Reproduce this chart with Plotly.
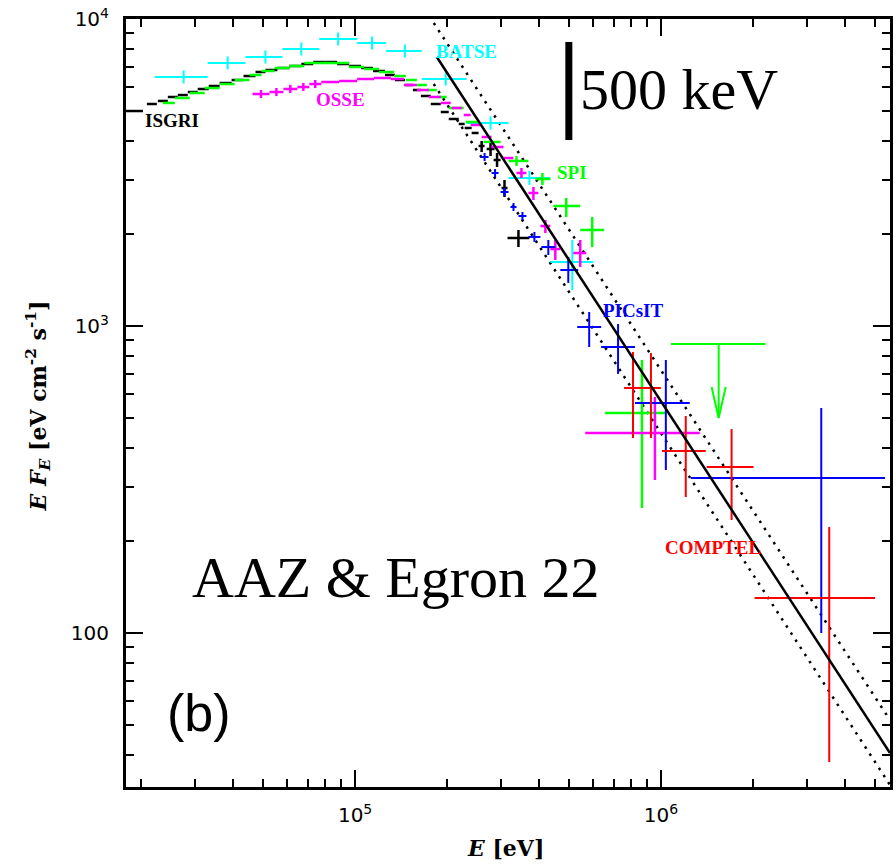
import numpy as np
import plotly.graph_objects as go

# ---------------- data (E in eV, E*F_E in eV cm^-2 s^-1) ----------------
batse_E    = [27500, 38300, 50900, 66700, 88000, 113600, 145500, 197900, 277300, 371500, 513100]
batse_E_lo = [22140, 32950, 43820, 57830, 76340, 101500, 126200, 165300, 231600, 317500, 434900]
batse_E_hi = [32950, 43820, 57830, 76340, 101500, 126200, 165300, 231600, 317500, 434900, 600400]
batse_F    = [6473, 7189, 7519, 7985, 8607, 8352, 7866, 6376, 4584, 3035, 1616]
batse_F_lo = [6165, 6850, 7160, 7605, 8200, 7955, 7490, 6070, 4365, 2880, 1310]
batse_F_hi = [6800, 7550, 7900, 8390, 9040, 8770, 8260, 6700, 4815, 3200, 1906]

isgri_E    = [18350, 21650, 23510, 25340, 27320, 29450, 31860, 34600, 37720, 41270,
              45160, 49040, 53260, 58280, 63760, 69760, 76340, 83520, 91400, 100000,
              109400, 119700, 130000, 140200, 150000, 159200, 170300, 183600, 196400, 210100,
              223100, 234200, 246900, 259300, 277300, 291200, 308000, 342100]
isgri_E_lo = [16780, 20850, 22650, 24410, 26320, 28370, 30570, 33210, 36060, 39460,
              43170, 47240, 50920, 55710, 60950, 66700, 72980, 79850, 87360, 95610,
              104600, 114400, 125200, 135000, 145500, 154500, 164100, 176800, 190600, 202400,
              218200, 228200, 240500, 253400, 269200, 283700, 301200, 315100]
isgri_E_hi = [20240, 22480, 24410, 26320, 28370, 30570, 33210, 36060, 39460, 43170,
              47240, 50920, 55710, 60950, 66700, 72980, 79850, 87360, 95610, 104600,
              114400, 125200, 135000, 145500, 154500, 164100, 176800, 190600, 202400, 218200,
              228200, 240500, 253400, 265100, 285800, 299000, 315100, 371500]
isgri_F    = [5015, 5286, 5408, 5571, 5654, 5783, 5916, 6050, 6187, 6328,
              6521, 6720, 6822, 6924, 7029, 7135, 7242, 7242, 7135, 7029,
              6924, 6771, 6571, 6328, 6095, 5871, 5613, 5286, 4978, 4724,
              4550, 4416, 4253, 3858, 3772, 3473, 2815, 1935]
isgri_F_lo = [5015, 5286, 5408, 5571, 5654, 5783, 5916, 6050, 6187, 6328,
              6521, 6720, 6822, 6924, 7029, 7135, 7242, 7242, 7135, 7029,
              6924, 6771, 6571, 6328, 6095, 5871, 5613, 5286, 4978, 4724,
              4550, 4416, 4253, 3688, 3578, 3296, 2632, 1808]
isgri_F_hi = [5015, 5286, 5408, 5571, 5654, 5783, 5916, 6050, 6187, 6328,
              6521, 6720, 6822, 6924, 7029, 7135, 7242, 7242, 7135, 7029,
              6924, 6771, 6571, 6328, 6095, 5871, 5613, 5286, 4978, 4724,
              4550, 4416, 4253, 4005, 3946, 3660, 2990, 2055]

spi_E    = [24600, 27220, 30460, 34090, 38150, 42700, 47240, 51880, 57620, 64480,
            72160, 80750, 90360, 101100, 113200, 126600, 140200, 152800, 165300, 178200,
            192000, 214100, 241400, 280500, 337100, 409700, 490400, 596200, 867100]
spi_E_lo = [23510, 25730, 28800, 32220, 36060, 40360, 45160, 49410, 54480, 60950,
            68220, 76340, 85410, 95610, 107000, 119700, 134000, 146600, 159200, 171600,
            185000, 202400, 229900, 263200, 317500, 388700, 444900, 544700, 657100]
spi_E_hi = [25730, 28800, 32220, 36060, 40360, 45160, 49410, 54480, 60950, 68220,
            76340, 85410, 95610, 107000, 119700, 134000, 146600, 159200, 171600, 185000,
            199400, 226500, 253400, 299000, 368800, 435000, 544700, 652200, 1038000]
spi_F    = [5327, 5530, 5741, 5960, 6140, 6328, 6571, 6771, 6924, 7029,
            7189, 7189, 7189, 6976, 6873, 6720, 6521, 6328, 6095, 5871,
            5571, 5130, 4619, 3976, 3448, 3012, 2460, 2055, 520.7]
spi_F_lo = [5327, 5530, 5741, 5960, 6140, 6328, 6571, 6771, 6924, 7029,
            7189, 7189, 7189, 6976, 6873, 6720, 6521, 6328, 6095, 5871,
            5571, 5130, 4619, 3976, 3321, 2880, 2265, 1808, 255.4]
spi_F_hi = [5327, 5530, 5741, 5960, 6140, 6328, 6571, 6771, 6924, 7029,
            7189, 7189, 7189, 6976, 6873, 6720, 6521, 6328, 6095, 5871,
            5571, 5130, 4619, 3976, 3578, 3151, 2612, 2265, 775.0]
# SPI upper limit
spi_ul_E    = [1545000]
spi_ul_E_lo = [1078000]
spi_ul_E_hi = [2198000]
spi_ul_F    = [873.6]

osse_E    = [49230, 55300, 61400, 67710, 74080, 82900, 94890, 108200, 122900, 137500,
             151600, 166500, 182200, 197900, 214900, 232500, 248700, 269200, 292300, 317500,
             349900, 382900, 419000, 451600, 544700, 955900]
osse_E_lo = [46190, 52480, 58280, 64730, 70840, 77500, 88670, 101500, 115300, 131000,
             144400, 159200, 174200, 190600, 207000, 226500, 238700, 259300, 279400, 305700,
             337100, 368800, 403600, 435000, 516800, 565700]
osse_E_hi = [52480, 58280, 64730, 70840, 77500, 88670, 101500, 115300, 131000, 144400,
             159200, 174200, 190600, 205500, 223100, 238700, 259300, 279400, 305700, 329600,
             363300, 397500, 435000, 468800, 570000, 1340000]
osse_F    = [5697, 5783, 5916, 6004, 6140, 6234, 6281, 6376, 6424, 6376,
             6095, 5871, 5571, 5327, 5130, 4867, 4516, 4127, 3829, 3526,
             3151, 2712, 2117, 1781, 1729, 448.1]
osse_F_lo = [5530, 5610, 5740, 5830, 5960, 6234, 6281, 6376, 6424, 6376,
             6095, 5871, 5571, 5327, 5130, 4867, 4516, 4127, 3829, 3526,
             3035, 2573, 2009, 1641, 1557, 315.0]
osse_F_hi = [5870, 5960, 6100, 6190, 6330, 6234, 6281, 6376, 6424, 6376,
             6095, 5871, 5571, 5327, 5130, 4867, 4516, 4127, 3829, 3526,
             3271, 2837, 2215, 1906, 1906, 587.1]

pic_E    = [265100, 286900, 308000, 329600, 352600, 385800, 428400, 497900, 582800, 724300, 1038000, 3345000]
pic_E_lo = [257300, 279400, 299000, 322200, 342100, 368800, 406600, 468800, 532500, 637600, 822700, 1252000]
pic_E_hi = [273200, 294500, 317500, 337100, 363300, 403600, 451600, 536500, 637600, 822700, 1243000, 5407000]
pic_F    = [3552, 3151, 2732, 2441, 2282, 1950, 1808, 1522, 992.7, 854.1, 561.3, 319.8]
pic_F_lo = [3448, 3058, 2651, 2369, 2215, 1879, 1703, 1381, 854.1, 697.9, 339.6, 100.0]
pic_F_hi = [3660, 3247, 2815, 2515, 2352, 2024, 1906, 1678, 1111, 1015, 775.0, 540.6]

comptel_E    = [810500, 927800, 1206000, 1703000, 3552000]
comptel_E_lo = [757700, 873600, 1008000, 1412000, 2024000]
comptel_E_hi = [873600, 1000000, 1402000, 2009000, 5015000]
comptel_F    = [628.3, 628.3, 391.5, 347.3, 130.0]
comptel_F_lo = [431.6, 431.6, 277.3, 233.4, 37.99]
comptel_F_hi = [822.7, 816.6, 509.1, 461.7, 221.4]

# power-law fit and its uncertainty band (end points)
fit_E    = [185000, 5613000]
fit_F    = [7519, 40.65]
fit_hi_E = [180800, 5613000]
fit_hi_F = [9705, 52.07]
fit_lo_E = [180800, 5613000]
fit_lo_F = [6140, 31.98]

marker_500keV = 5.0e5

x_tickvals = [1e5, 1e6]
x_ticktext = ["10<sup>5</sup>", "10<sup>6</sup>"]
y_tickvals = [100, 1000, 10000]
y_ticktext = ["100", "10<sup>3</sup>", "10<sup>4</sup>"]

# ---------------- styling ----------------
X_RANGE = [4.2508, 6.7492]
Y_RANGE = [1.4984, 4.0]
CYAN, MAG, GRN, BLU, RED = "#00ffff", "#ff00ff", "#00ff00", "#0000ff", "#ff0000"
UL_ARROW_DEX = 0.241      # length of the upper-limit arrow (decades)
HEAD_LEN_DEX = 0.101
HEAD_HALF_DEX = 0.023


def series(E, Elo, Ehi, F, Flo, Fhi, color, thick=2.0):
    E, Elo, Ehi = np.array(E, float), np.array(Elo, float), np.array(Ehi, float)
    F, Flo, Fhi = np.array(F, float), np.array(Flo, float), np.array(Fhi, float)
    return go.Scatter(
        x=E, y=F, mode="markers",
        marker=dict(size=1, color=color),
        error_x=dict(type="data", symmetric=False, array=Ehi - E, arrayminus=E - Elo,
                     color=color, thickness=thick, width=0),
        error_y=dict(type="data", symmetric=False, array=Fhi - F, arrayminus=F - Flo,
                     color=color, thickness=thick, width=0),
        showlegend=False, hoverinfo="skip")


fig = go.Figure()

fig.add_trace(go.Scatter(x=fit_hi_E, y=fit_hi_F, mode="lines",
                         line=dict(color="black", width=2.5, dash="2.5px,6px"),
                         showlegend=False, hoverinfo="skip"))
fig.add_trace(go.Scatter(x=fit_lo_E, y=fit_lo_F, mode="lines",
                         line=dict(color="black", width=2.5, dash="2.5px,6px"),
                         showlegend=False, hoverinfo="skip"))

fig.add_trace(series(batse_E, batse_E_lo, batse_E_hi, batse_F, batse_F_lo, batse_F_hi, CYAN))
fig.add_trace(series(isgri_E, isgri_E_lo, isgri_E_hi, isgri_F, isgri_F_lo, isgri_F_hi, "black", 2.5))
fig.add_trace(series(spi_E, spi_E_lo, spi_E_hi, spi_F, spi_F_lo, spi_F_hi, GRN, 2.5))
fig.add_trace(series(osse_E, osse_E_lo, osse_E_hi, osse_F, osse_F_lo, osse_F_hi, MAG, 2.5))
fig.add_trace(series(pic_E, pic_E_lo, pic_E_hi, pic_F, pic_F_lo, pic_F_hi, BLU))
fig.add_trace(series(comptel_E, comptel_E_lo, comptel_E_hi, comptel_F, comptel_F_lo, comptel_F_hi, RED))

# SPI upper limit: horizontal bar + downward arrow
fig.add_trace(series(spi_ul_E, spi_ul_E_lo, spi_ul_E_hi, spi_ul_F, spi_ul_F, spi_ul_F, GRN))
ax_, ay_ = [], []
for e, f in zip(spi_ul_E, spi_ul_F):
    tip = f / 10 ** UL_ARROW_DEX
    ax_ += [e, e, None, e / 10 ** HEAD_HALF_DEX, e, e * 10 ** HEAD_HALF_DEX, None]
    ay_ += [f, tip, None, tip * 10 ** HEAD_LEN_DEX, tip, tip * 10 ** HEAD_LEN_DEX, None]
fig.add_trace(go.Scatter(x=ax_, y=ay_, mode="lines", line=dict(color=GRN, width=2),
                         showlegend=False, hoverinfo="skip"))

fig.add_trace(go.Scatter(x=fit_E, y=fit_F, mode="lines", line=dict(color="black", width=2.5),
                         showlegend=False, hoverinfo="skip"))

# 500 keV marker bar
fig.add_shape(type="line", xref="x", yref="paper", x0=marker_500keV, x1=marker_500keV,
              y0=0.8424, y1=0.9701, line=dict(color="black", width=7))

x_minor = [m * 10 ** d for d in (4, 5, 6) for m in range(2, 10)]
y_minor = [m * 10 ** d for d in (1, 2, 3) for m in range(2, 10)]

axis_common = dict(type="log", showline=True, linecolor="black", linewidth=3,
                   mirror="allticks", ticks="inside", ticklen=17, tickwidth=2,
                   tickcolor="black", showgrid=False, zeroline=False,
                   tickfont=dict(family="DejaVu Sans", size=20, color="black"))
fig.update_xaxes(range=X_RANGE, tickmode="array", tickvals=x_tickvals, ticktext=x_ticktext,
                 minor=dict(tickvals=x_minor, ticks="inside", ticklen=8, tickwidth=2,
                            tickcolor="black", showgrid=False),
                 ticklabelstandoff=8, **axis_common)
fig.update_yaxes(range=Y_RANGE, tickmode="array", tickvals=y_tickvals, ticktext=y_ticktext,
                 minor=dict(tickvals=y_minor, ticks="inside", ticklen=8, tickwidth=2,
                            tickcolor="black", showgrid=False),
                 ticklabelstandoff=10, **axis_common)

lab = dict(family="Liberation Serif", size=19)
annots = [
    ("<b>BATSE</b>", 0.4029, 0.9583, CYAN),
    ("<b>OSSE</b>", 0.2464, 0.8958, MAG),
    ("<b>ISGRI</b>", 0.0222, 0.8672, "black"),
    ("<b>SPI</b>", 0.5619, 0.7995, GRN),
    ("<b>PICsIT</b>", 0.6219, 0.6198, BLU),
    ("<b>COMPTEL</b>", 0.7027, 0.3112, RED),
]
for t, x, y, c in annots:
    fig.add_annotation(text=t, x=x, y=y, xref="paper", yref="paper", xanchor="left",
                       yanchor="middle", showarrow=False, font=dict(color=c, **lab))

fig.add_annotation(text="500 keV", x=0.5919, y=0.9076, xref="paper", yref="paper",
                   xanchor="left", yanchor="middle", showarrow=False,
                   font=dict(family="Liberation Serif", size=58, color="black"))
fig.add_annotation(text="AAZ &amp; Egron 22", x=0.0834, y=0.2734, xref="paper", yref="paper",
                   xanchor="left", yanchor="middle", showarrow=False,
                   font=dict(family="Liberation Serif", size=58, color="black"))
fig.add_annotation(text="(b)", x=0.0508, y=0.0964, xref="paper", yref="paper",
                   xanchor="left", yanchor="middle", showarrow=False,
                   font=dict(family="Liberation Sans", size=52, color="black"))

fig.add_annotation(text="<b><i>E</i> [eV]</b>", x=0.4967, y=-0.0794, xref="paper", yref="paper",
                   xanchor="center", yanchor="middle", showarrow=False,
                   font=dict(family="DejaVu Serif", size=22, color="black"))
fig.add_annotation(text="<b><i>E F<sub>E</sub></i> [eV cm<sup>-2</sup> s<sup>-1</sup>]</b>",
                   x=-0.1147, y=0.496, xref="paper", yref="paper", textangle=-90,
                   xanchor="center", yanchor="middle", showarrow=False,
                   font=dict(family="DejaVu Serif", size=22, color="black"))

fig.update_layout(width=896, height=865, margin=dict(l=126, r=3, t=19, b=78),
                  plot_bgcolor="white", paper_bgcolor="white", showlegend=False)

fig.write_html("out.html")
